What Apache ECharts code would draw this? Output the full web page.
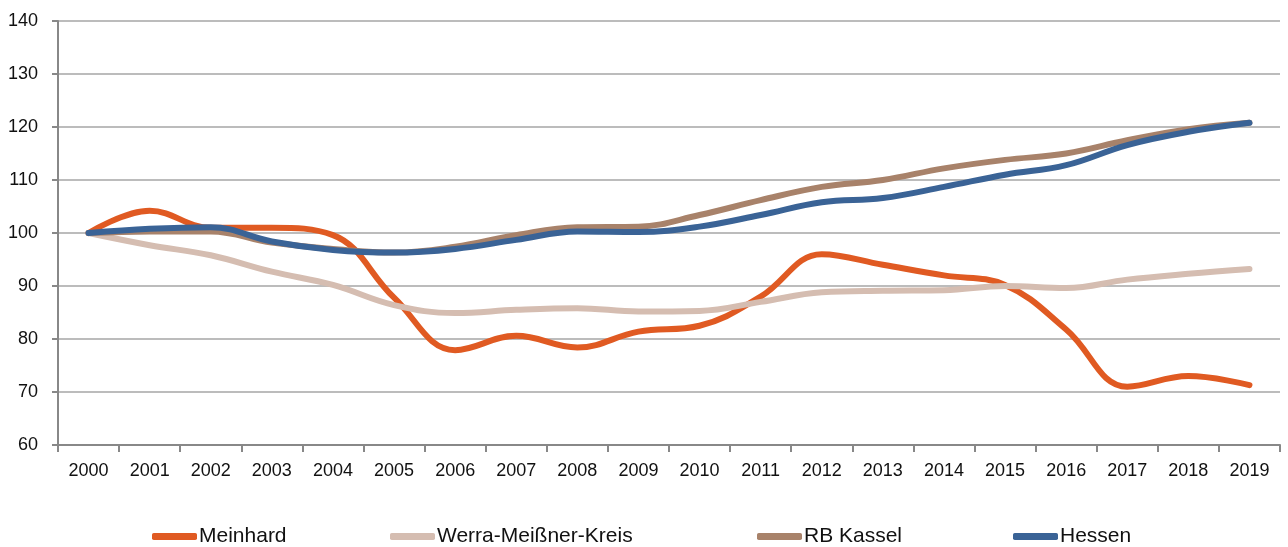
<!DOCTYPE html>
<html>
<head>
<meta charset="utf-8">
<script src="https://cdn.jsdelivr.net/npm/echarts@6/dist/echarts.min.js"></script>
<style>
  html, body { margin: 0; padding: 0; background: #fff; }
  #chart { width: 1288px; height: 547px; }
</style>
</head>
<body>
<div id="chart"></div>
<script>
  // Daten
  const years = ['2000', '2001', '2002', '2003', '2004', '2005', '2006', '2007', '2008', '2009',
    '2010', '2011', '2012', '2013', '2014', '2015', '2016', '2017', '2018', '2019']
  const meinhard = [100, 104.2, 101, 101, 99.6, 87.8, 77.9, 80.6, 78.4, 81.4,
    82.5, 88, 96, 94, 92, 90.2, 81.8, 71, 73, 71.3]
  const werra = [100, 97.7, 95.8, 92.7, 90.2, 86.4, 84.9, 85.5, 85.8, 85.2,
    85.3, 87, 88.8, 89.1, 89.2, 90, 89.6, 91.2, 92.3, 93.2]
  const rbKassel = [100, 100.3, 100.3, 98.2, 97, 96.3, 97.4, 99.6, 101.1, 101.2,
    103.4, 106.2, 108.7, 110, 112.2, 113.8, 115, 117.5, 119.6, 120.8]
  const hessen = [100, 100.8, 101.1, 98.4, 96.8, 96.3, 97, 98.7, 100.3, 100.2,
    101.2, 103.4, 105.8, 106.6, 108.7, 111, 112.8, 116.6, 119.1, 120.8]
  const names = ['Meinhard', 'Werra-Meißner-Kreis', 'RB Kassel', 'Hessen']
  const colors = ['#e05a22', '#d5bdb1', '#a8826a', '#3a6396']

  const font = '"Liberation Sans", Arial, sans-serif'

  function line(name, data, color) {
    return {
      name: name,
      type: 'line',
      data: data,
      smooth: 0.4,
      symbol: 'none',
      lineStyle: {width: 6, color: color, cap: 'round'},
      itemStyle: {color: color}
    }
  }

  // eine Legende pro Eintrag, damit die Abstände wie im Original sind
  const legendLeft = [152, 390, 757, 1013]
  const legends = names.map((n, i) => ({
    top: 526,
    left: legendLeft[i],
    padding: 0,
    itemWidth: 45,
    itemHeight: 7,
    icon: 'roundRect',
    textStyle: {fontFamily: font, fontSize: 21, color: '#111', padding: [0, 0, 0, -3]},
    data: [n]
  }))

  let myChart = echarts.init(document.getElementById('chart'))
  myChart.setOption({
    animation: false,
    grid: {left: 58, right: 8, top: 21, bottom: 102},
    legend: legends,
    xAxis: {
      type: 'category',
      data: years,
      boundaryGap: true,
      axisLine: {lineStyle: {color: '#888', width: 2}},
      axisTick: {show: true, length: 7, lineStyle: {color: '#888', width: 2}},
      axisLabel: {fontFamily: font, fontSize: 18, color: '#111', margin: 17, interval: 0}
    },
    yAxis: {
      type: 'value',
      min: 60,
      max: 140,
      interval: 10,
      axisLine: {show: true, lineStyle: {color: '#888', width: 2}},
      axisTick: {show: true, length: 6, lineStyle: {color: '#888', width: 2}},
      axisLabel: {fontFamily: font, fontSize: 18, color: '#111', margin: 20},
      splitLine: {lineStyle: {color: '#a6a6a6', width: 1.5}}
    },
    series: names.map((n, i) => line(n, [meinhard, werra, rbKassel, hessen][i], colors[i]))
  })
</script>
</body>
</html>
